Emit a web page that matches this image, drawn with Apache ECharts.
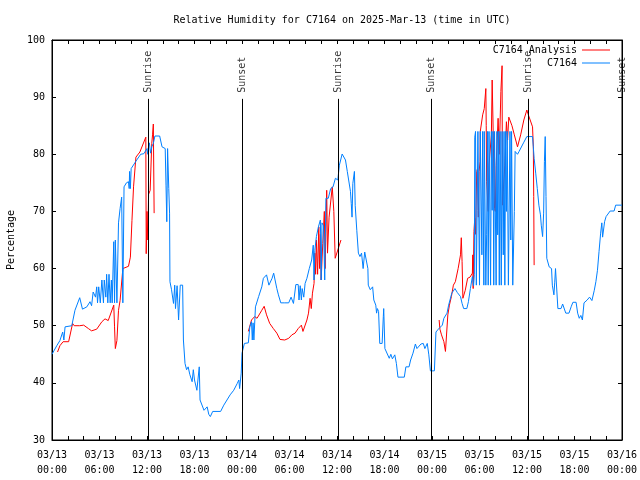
<!DOCTYPE html>
<html><head><meta charset="utf-8">
<script src="https://cdn.jsdelivr.net/npm/echarts@6/dist/echarts.min.js"></script>
<style>html,body{margin:0;padding:0;background:#fff}#c{width:640px;height:480px}</style>
</head><body><div id="c"></div>
<script>
const titleText = 'Relative Humidity for C7164 on 2025-Mar-13 (time in UTC)';
const yAxisName = 'Percentage';
const analysisName = 'C7164 Analysis';
const stationName = 'C7164';
const startDay = 13;
const eventHours = [12.19, 24.0, 36.2, 47.9, 60.15, 72.0];
const eventLabels = ['Sunrise', 'Sunset', 'Sunrise', 'Sunset', 'Sunrise', 'Sunset'];
const eventLineTop = 89.7;

// hours since 03/13 00:00 UTC, relative humidity %
const analysisDay1 = [[0.7,45.4],[1.0,46.5],[1.4,47.2],[2.1,47.2],[2.6,50.4],[2.8,50],[3.5,50],[4.0,50.1],[4.6,49.5],[5.0,49.1],[5.65,49.4],[6.3,50.7],[6.7,51.2],[7.1,50.9],[7.8,53.6],[7.9,49.8],[8.0,46],[8.2,47.4],[8.4,52.7],[8.6,54.4],[8.95,60],[9.66,60.4],[9.9,62],[10.1,68.4],[10.3,74.3],[10.6,79.5],[11.1,80.4],[11.85,83],[11.9,62.6],[12.0,70],[12.1,65],[12.2,73],[12.4,73.7],[12.6,81.9],[12.7,83.4],[12.8,85.3],[12.9,69.7]];
const analysisDay2 = [[24.8,49],[25.2,51],[25.6,51.6],[25.9,51.3],[26.5,52.7],[26.8,53.4],[27.1,51.9],[27.5,50.4],[27.96,49.5],[28.4,48.7],[28.8,47.6],[29.4,47.5],[29.9,47.8],[30.3,48.4],[30.7,48.7],[31.1,49.5],[31.5,50.1],[31.7,49],[31.9,49],[32.2,51],[32.4,52.2],[32.6,54.8],[32.75,53],[32.9,55.7],[33.1,57.4],[33.2,62.7],[33.3,59],[33.4,65],[33.55,59],[33.7,67.3],[33.8,60],[33.9,66],[34.0,58],[34.2,64.4],[34.4,70],[34.5,60],[34.7,73.7],[34.8,62.7],[35.0,69],[35.4,74.3],[35.6,70],[35.77,61.8],[36.0,62],[36.5,65]];
const analysisDay3 = [[48.9,51],[49.0,49.4],[49.2,48.4],[49.5,47.2],[49.7,45.5],[49.9,45.5],[50.0,51.9],[50.2,53.6],[50.45,55.1],[50.7,57.1],[50.95,57.7],[51.3,60],[51.6,62.4],[51.7,65.4],[51.8,61.2],[51.9,54.8],[52.2,56.2],[52.5,58.3],[52.8,58.5],[53.1,59.2],[53.15,62.4],[53.2,56.5],[53.3,66.5],[53.4,68.8],[53.5,66],[53.65,77],[53.75,77.5],[53.85,69],[53.95,77],[54.07,78.7],[54.1,84],[54.4,86.9],[54.6,88],[54.8,91.5],[54.85,85],[54.9,75.2],[55.1,70],[55.2,78.1],[55.5,83.4],[55.6,93],[55.7,86],[55.9,70.5],[56.0,70],[56.1,78],[56.35,86.3],[56.5,80],[56.7,91],[56.85,95.5],[56.9,71.1],[57.2,78.1],[57.4,85.7],[57.55,82.5],[57.7,86.5],[57.9,86.6],[58.1,85],[58.4,83.4],[58.8,81.3],[59.2,83.4],[59.6,86],[59.98,87.75],[60.1,87.2],[60.4,86],[60.7,84.8],[60.8,81.3],[60.85,72.6],[60.9,60.6]];

const stationDay1 = [[0,45],[0.2,45.1],[0.6,46.5],[1.0,47.4],[1.35,48.9],[1.5,47.5],[1.65,49.8],[2.5,50],[2.9,52.7],[3.5,54.9],[3.85,52.9],[4.4,53.3],[4.8,54.2],[5.0,53.5],[5.2,55.9],[5.5,55],[5.65,56.8],[5.75,54],[5.9,56.8],[6.1,54],[6.3,58],[6.5,54],[6.6,58],[6.8,55],[6.9,59],[7.05,54],[7.2,59],[7.35,54],[7.5,58],[7.6,54],[7.8,64.7],[7.9,54],[8.0,65],[8.2,54],[8.4,68],[8.6,70.5],[8.8,72.5],[8.95,54],[9.1,74.3],[9.4,75],[9.66,75.2],[9.75,74],[9.8,77],[9.9,74],[10.0,77.5],[10.7,79],[11.2,80],[11.6,80.1],[12.0,81],[12.1,80],[12.2,81.5],[12.3,82],[12.45,80.2],[12.6,81.3],[12.8,81.9],[13.0,83.2],[13.6,83.2],[13.9,81.3],[14.3,81],[14.4,74.6],[14.5,68.2],[14.6,81],[14.75,74],[14.85,69.7],[14.9,57.7],[15.1,56.3],[15.35,53.9],[15.5,57.1],[15.6,53],[15.8,57],[15.99,51],[16.2,57.1],[16.5,57.1],[16.6,47.5],[16.8,43.4],[17.0,42.3],[17.2,42.8],[17.4,41.5],[17.7,40.2],[17.85,42.3],[18.0,40.5],[18.3,38.7],[18.5,39],[18.6,42.8],[18.7,37],[18.8,36.7],[19.2,35.2],[19.6,35.8],[19.8,34.5],[20.0,34.1],[20.3,35],[21.3,35],[21.7,36.1],[22.1,37],[22.5,37.9],[22.95,38.7],[23.4,39.9],[23.6,40.5],[23.7,39],[23.9,41.7]];
const stationDay2 = [[24.0,45.2],[24.3,46.9],[24.4,47],[24.8,47],[24.99,49.8],[25.2,50.7],[25.3,47.5],[25.4,50.5],[25.5,47.5],[25.7,53.3],[26.1,55.1],[26.5,56.8],[26.7,58.3],[27.1,58.9],[27.4,57.1],[27.8,58.3],[28.0,59.2],[28.4,56.5],[28.6,55.4],[28.9,54],[29.4,54],[29.9,54],[30.2,55],[30.5,53.9],[30.8,57.2],[31.1,57.2],[31.2,54.5],[31.35,57],[31.5,54.5],[31.6,56.5],[31.8,55],[31.97,57.4],[32.2,58.3],[32.5,60],[32.8,61.5],[33.0,64.1],[33.1,58],[33.2,63.2],[33.4,65.6],[33.65,67.3],[33.9,68.5],[34.0,58],[34.1,68],[34.3,67.5],[34.45,58],[34.6,72.3],[34.9,72.3],[35.2,74],[35.5,74.3],[35.8,75.8],[36.0,76.1],[36.1,75.5],[36.3,78.1],[36.65,80.05],[37.07,79],[37.3,77],[37.5,77],[37.7,73.5],[37.8,71.4],[37.9,69],[38.0,74.9],[38.2,77],[38.3,71],[38.5,66.7],[38.7,62.7],[38.9,62.1],[39.1,62.7],[39.3,60],[39.5,62.9],[39.75,62.9],[39.9,60],[39.95,57.1],[40.2,56.3],[40.5,56.8],[40.65,54.5],[40.9,53.6],[41.0,52.2],[41.1,53],[41.25,52.5],[41.4,46.9],[41.7,46.9],[41.85,51.6],[41.9,53],[42.05,46],[42.2,45.7],[42.6,44.3],[42.8,45],[43.0,44.2],[43.3,44.9],[43.5,43.4],[43.7,41],[44.5,41],[44.7,42.8],[45.1,42.8],[45.3,44],[45.6,45.2],[45.9,46.8],[46.1,46],[46.35,46],[46.6,46.8],[46.9,46.9],[47.1,46],[47.4,46.9],[47.6,44.9],[47.8,42.1]];
const stationDay3 = [[48.3,42.1],[48.5,48.9],[48.8,49.4],[49.3,50.1],[49.5,51.3],[49.9,52.2],[50.1,53.6],[50.3,53.9],[50.5,55.7],[50.9,56.5],[51.2,55.8],[51.6,55.1],[51.8,53.9],[52.0,53],[52.4,53],[52.6,54.2],[52.85,56.5],[53.1,58.6],[53.25,57],[53.35,59],[53.4,83],[53.5,84],[53.6,57.1],[53.7,70.2],[53.8,84],[53.95,84],[54.0,57.1],[54.1,84],[54.25,84],[54.3,62.4],[54.4,84],[54.55,57.1],[54.6,84],[54.75,84],[54.8,57.1],[54.9,65.9],[55.0,84],[55.1,57.1],[55.2,84],[55.35,84],[55.4,57.1],[55.5,84],[55.6,70.2],[55.7,84],[55.8,57.1],[55.9,84],[56.05,84],[56.1,57.1],[56.2,84],[56.3,65.9],[56.4,84],[56.5,57.1],[56.6,84],[56.7,84],[56.75,57.1],[56.85,84],[57.0,62.4],[57.1,84],[57.2,57.1],[57.3,84],[57.4,70],[57.5,84],[57.65,57.1],[57.8,57.1],[57.85,84],[57.95,65],[58.05,84],[58.2,57.1],[58.35,57.1],[58.4,70],[58.5,80.5],[58.8,80],[59.0,80.5],[59.2,80.2],[59.56,82],[59.98,83.1],[60.7,83.1],[60.9,79.3],[61.1,76.7],[61.3,74],[61.5,71.1],[61.7,69.4],[61.8,67.6],[61.97,65.6],[62.1,69.7],[62.2,78.7],[62.3,83.1],[62.4,72.6],[62.5,61.8],[62.8,60.3],[63.1,60],[63.2,57.1],[63.4,55.4],[63.5,57.5],[63.6,60],[63.9,53],[64.3,53],[64.5,53.8],[64.9,52.2],[65.3,52.2],[65.6,53.4],[65.8,54.1],[66.2,54.1],[66.4,52.2],[66.6,51.3],[66.8,51.8],[67.0,51],[67.2,54],[67.6,54.5],[67.9,55],[68.2,54.4],[68.5,56.2],[68.7,57.7],[68.9,59.7],[69.1,63],[69.3,66.2],[69.45,68],[69.55,65.5],[69.8,68.2],[69.99,69.1],[70.2,69.2],[70.5,70.07],[71.0,70.07],[71.2,71.1],[72.0,71.1]];

const gap = (h) => [[h, null]];
const analysisData = analysisDay1.concat(gap(18), analysisDay2, gap(42), analysisDay3);
const stationData = stationDay1.concat(stationDay2, stationDay3);

const FONT = 'DejaVu Sans Mono';
const txt = {fontFamily: FONT, fontSize: 10, color: '#000'};

function xLabel(h) {
  if (h % 6 !== 0) return '';
  const d = startDay + Math.floor(h / 24);
  const hh = h % 24;
  return '03/' + String(d).padStart(2, '0') + '\n' + String(hh).padStart(2, '0') + ':00';
}

const legendBase = {right: 30, orient: 'vertical', align: 'right', icon: 'rect', itemWidth: 28, itemHeight: 1,
  textStyle: txt, selectedMode: false, padding: 0, itemStyle: {borderWidth: 0}};

const chart = echarts.init(document.getElementById('c'), null, {renderer: 'canvas'});
chart.setOption({
  animation: false,
  backgroundColor: '#fff',
  title: {
    text: titleText, left: 337, top: 10, textAlign: 'center',
    textStyle: Object.assign({fontWeight: 'normal'}, txt)
  },
  legend: [
    Object.assign({data: [analysisName], top: 45}, legendBase),
    Object.assign({data: [stationName], top: 58}, legendBase)
  ],
  grid: {left: 52, right: 18, top: 40, bottom: 40, show: true, borderColor: '#000', borderWidth: 1,
    containLabel: false, outerBoundsMode: 'none'},
  xAxis: [
    {type: 'value', min: 0, max: 72, interval: 2, position: 'bottom',
     axisLine: {show: true, onZero: false, lineStyle: {color: '#000'}},
     axisTick: {show: true, inside: true, length: 4, lineStyle: {color: '#000'}},
     axisLabel: Object.assign({formatter: xLabel, margin: 8, lineHeight: 15, showMinLabel: true, showMaxLabel: true}, txt),
     splitLine: {show: false}},
    {type: 'value', min: 0, max: 72, interval: 2, position: 'top',
     axisLine: {show: true, onZero: false, lineStyle: {color: '#000'}},
     axisTick: {show: true, inside: true, length: 4, lineStyle: {color: '#000'}},
     axisLabel: {show: false}, splitLine: {show: false}}
  ],
  yAxis: [
    {type: 'value', min: 30, max: 100, interval: 10, position: 'left',
     name: yAxisName, nameLocation: 'middle', nameGap: 36, nameRotate: 90, nameTextStyle: txt,
     axisLine: {show: true, onZero: false, lineStyle: {color: '#000'}},
     axisTick: {show: true, inside: true, length: 4, lineStyle: {color: '#000'}},
     axisLabel: Object.assign({margin: 7}, txt),
     splitLine: {show: false}},
    {type: 'value', min: 30, max: 100, interval: 10, position: 'right',
     axisLine: {show: true, onZero: false, lineStyle: {color: '#000'}},
     axisTick: {show: true, inside: true, length: 4, lineStyle: {color: '#000'}},
     axisLabel: {show: false}, splitLine: {show: false}}
  ],
  series: [
    {name: analysisName, type: 'line', data: analysisData, showSymbol: false, symbol: 'none',
     connectNulls: false, lineStyle: {color: '#ff0000', width: 1}, itemStyle: {color: '#ff0000'}, z: 2},
    {name: stationName, type: 'line', data: stationData, showSymbol: false, symbol: 'none',
     lineStyle: {color: '#0080ff', width: 1}, itemStyle: {color: '#0080ff'}, z: 3},
    {name: 'events', type: 'scatter', symbolSize: 0, silent: true, z: 4,
     data: eventHours.map((h, i) => ({value: [h, eventLineTop], name: eventLabels[i]})),
     label: Object.assign({show: true, formatter: '{b}', position: 'top', distance: 6, rotate: 90, align: 'left', verticalAlign: 'middle'}, txt),
     markLine: {symbol: 'none', silent: true, animation: false,
       lineStyle: {color: '#000', width: 1, type: 'solid'}, label: {show: false},
       data: eventHours.map(h => [{coord: [h, 30]}, {coord: [h, eventLineTop]}])}}
  ]
});
</script>
</body></html>
